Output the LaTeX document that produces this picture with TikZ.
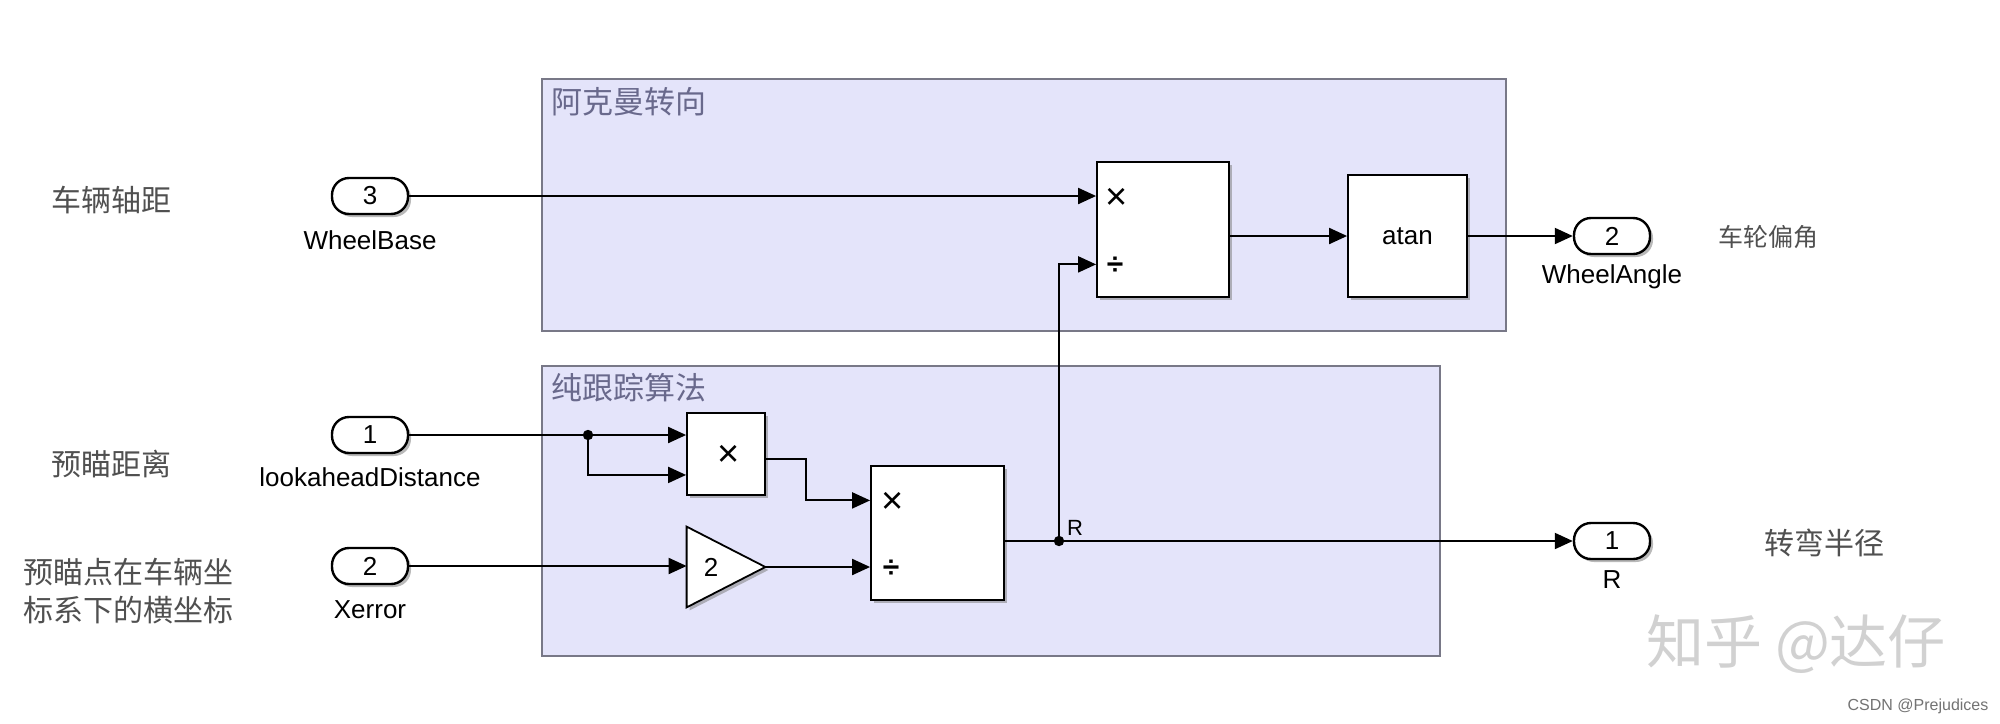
\documentclass[tikz,border=0pt]{standalone}
\usepackage{fontspec}
\setmainfont{Liberation Sans}
\newfontfamily\cjk{Noto Sans CJK SC}
\usetikzlibrary{arrows.meta,shadows,calc}
\definecolor{areafill}{RGB}{228,228,250}
\definecolor{areadraw}{RGB}{120,120,135}
\definecolor{titlecol}{RGB}{105,105,140}
\definecolor{cjkgray}{RGB}{80,80,80}
\tikzset{
  area/.style={fill=areafill,draw=areadraw,line width=1pt},
  shad/.style={drop shadow={shadow xshift=1.5pt,shadow yshift=-1.5pt,fill=black!50,opacity=0.55}},
  blk/.style={draw=black,fill=white,line width=0.9pt,inner sep=0pt,shad,
              font=\fontsize{13}{15}\selectfont},
  port/.style={draw=black,fill=white,line width=1.2pt,rounded corners=8.5pt,
               minimum width=38pt,minimum height=18pt,inner sep=0pt,shad,
               font=\fontsize{13}{15}\selectfont},
  lbl/.style={font=\fontsize{13}{15}\selectfont,inner sep=0pt},
  cjklbl/.style={font=\cjk\fontsize{15}{19}\selectfont,text=cjkgray,inner sep=0pt,align=left},
  ttl/.style={font=\cjk\fontsize{15.5}{19}\selectfont,text=titlecol,inner sep=0pt,anchor=west},
  mulsym/.style={font=\fontsize{19}{20}\selectfont,inner sep=0pt},
  divsym/.style={font=\bfseries\fontsize{15}{16}\selectfont,inner sep=0pt},
  conn/.style={line width=1pt,-{Triangle[length=9pt,width=8pt]}},
  wire/.style={line width=1pt},
}
\begin{document}
\begin{tikzpicture}[x=0.5pt,y=-0.5pt]
\useasboundingbox (0,0) rectangle (2000,723);
\fill[white] (0,0) rectangle (2000,723);

% subsystem areas
\path[area] (542,79) rectangle (1506,331);
\path[area] (542,366) rectangle (1440,656);
\node[ttl] (t1) at (551,102) {阿克曼转向};
\node[ttl] (t2) at (551,388) {纯跟踪算法};

% side labels
\node[cjklbl] (c1) at (111,200) {车辆轴距};
\node[cjklbl] (c2) at (111,464) {预瞄距离};
\node[cjklbl,align=left] (c3) at (128,591) {预瞄点在车辆坐\\标系下的横坐标};
\node[cjklbl,font=\cjk\fontsize{12.5}{15}\selectfont] (c4) at (1768,237) {车轮偏角};
\node[cjklbl] (c5) at (1824,543) {转弯半径};

% ports
\node[port] (p3) at (370,196) {3};
\node[lbl] (p3l) at (370,240) {WheelBase};
\node[port] (p1) at (370,435) {1};
\node[lbl] (p1l) at (370,477) {lookaheadDistance};
\node[port] (p2) at (370,566) {2};
\node[lbl] (p2l) at (370,610) {Xerror};
\node[port] (out2) at (1612,236) {2};
\node[lbl] (out2l) at (1612,277) {WheelAngle};
\node[port] (outR) at (1612,541) {1};
\node[lbl] (outRl) at (1612,580) {R};

% blocks
\node[blk,minimum width=66pt,minimum height=67.5pt] (prodA) at (1163,229.5) {};
\node[mulsym] (prodAx) at (1117,199) {×};
\node[divsym] (prodAd) at (1115,266) {÷};
\node[blk,minimum width=59.5pt,minimum height=61pt] (atan) at (1407.5,236) {atan};
\node[blk,minimum width=39pt,minimum height=41pt] (mult) at (726,454) {};
\node[mulsym] (multx) at (729,456) {×};
\node[blk,minimum width=66.5pt,minimum height=67pt] (prodB) at (937.5,533) {};
\node[mulsym] (prodBx) at (893,503) {×};
\node[divsym] (prodBd) at (891,569) {÷};
\node[minimum width=39pt,minimum height=40pt,inner sep=0pt] (gain) at (726,567) {};
\filldraw[draw=black,fill=white,line width=0.9pt,shad]
  (gain.north west) -- (gain.east) -- (gain.south west) -- cycle;
\node[lbl] (gaint) at (711,567) {2};

% port coordinates
\coordinate (aIn2) at ($(prodA.north west)!0.755!(prodA.south west)$);
\coordinate (mIn2) at ($(mult.north west)!0.75!(mult.south west)$);
\coordinate (mOut) at ($(mult.north east)!0.56!(mult.south east)$);
\coordinate (bIn1) at ($(prodB.north west)!0.26!(prodB.south west)$);
\coordinate (j1) at (588,435);
\coordinate (j2) at (1059,541);

% connectors
\draw[conn] (p3.east) -- (p3.east -| prodA.west);
\draw[conn] (prodA.east |- atan.west) -- (atan.west);
\draw[conn] (atan.east) -- (out2.west);
\draw[wire] (p1.east) -- (j1);
\draw[conn] (j1) -- (j1 -| mult.west);
\draw[conn] (j1) |- (mIn2);
\draw[conn] (mOut) -- ++(40,0) |- (bIn1);
\draw[conn] (p2.east) -- (p2.east -| gain.west);
\draw[conn] (gain.east) -- (gain.east -| prodB.west);
\draw[wire] (prodB.east |- j2) -- (j2);
\draw[conn] (j2) -- (outR.west);
\draw[conn] (j2) |- (aIn2);
\fill (j1) circle (2.6pt);
\fill (j2) circle (2.6pt);
\node[font=\fontsize{11}{13}\selectfont,inner sep=0pt] (rlab) at (1075,528) {R};

% watermarks
\node[font=\cjk\fontsize{29}{32}\selectfont,text=black!18,inner sep=0pt] (wm) at (1796,644) {知乎 @达仔};
\node[font=\fontsize{8}{10}\selectfont,text=black!55,inner sep=0pt] (csdn) at (1918,706) {CSDN @Prejudices};
\end{tikzpicture}
\end{document}
